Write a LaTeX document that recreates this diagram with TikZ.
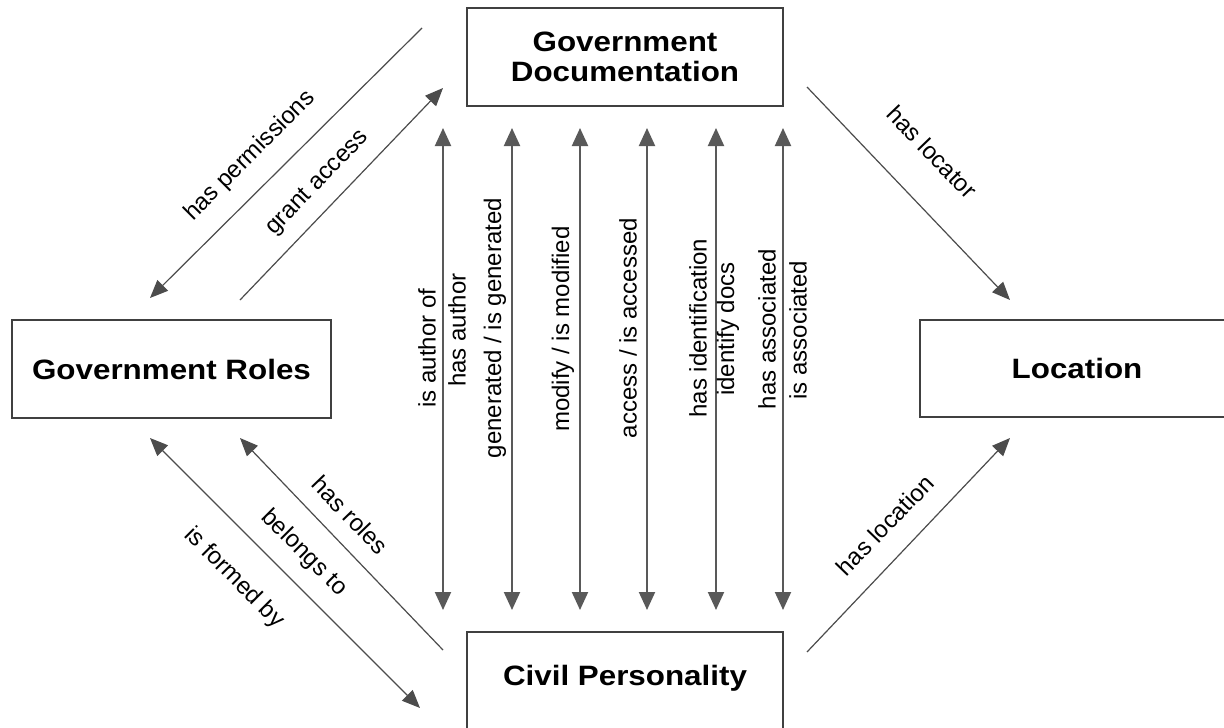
\documentclass[tikz,border=0pt]{standalone}
\usepackage{fontspec}
\setmainfont{Liberation Sans}
\newfontfamily\boxfont{Liberation Sans}[FakeStretch=1.12]
\usetikzlibrary{arrows.meta}
\begin{document}
\begin{tikzpicture}[x=1pt,y=-1pt,
  box/.style={draw=black!75, line width=1.8pt, fill=white, inner sep=0pt},
  boxlabel/.style={font=\boxfont\bfseries\fontsize{28}{30}\selectfont, align=center, inner sep=0pt},
  rel/.style={font=\fontsize{24}{26}\selectfont, inner sep=0pt},
  vlink/.style={draw=black!65, line width=2pt, {Triangle[length=18pt,width=16pt]}-{Triangle[length=18pt,width=16pt]}},
  dlink/.style={draw=black!70, line width=1.2pt, -{Triangle[length=18pt,width=15pt]}},
  dlink2/.style={draw=black!70, line width=1.2pt, {Triangle[length=18pt,width=15pt]}-{Triangle[length=18pt,width=15pt]}},
]
\clip (0,0) rectangle (1224,728);
\fill[white] (0,0) rectangle (1224,728);

% boxes
\node[box, boxlabel, minimum width=316pt, minimum height=98pt] (doc) at (625,57) {Government\\Documentation};
\node[box, boxlabel, minimum width=319pt, minimum height=98pt] (roles) at (171.5,369) {Government Roles};
\node[box, boxlabel, minimum width=314pt, minimum height=97pt] (loc) at (1077,368.5) {Location};
\node[box, minimum width=316pt, minimum height=108pt] (civ) at (625,686) {};
\node[boxlabel] (civt) at (625,678) {Civil Personality};

% vertical links
\foreach \n/\x in {a/443,b/512,c/580,d/647,e/716,f/783}{
  \coordinate (t\n) at (\x,128);
  \coordinate (b\n) at (\x,610);
  \draw[vlink] (t\n) -- (b\n);
}
\node[rel, rotate=90] (l1) at (427,348) {is author of};
\node[rel, rotate=90] (l2) at (457,330) {has author};
\node[rel, rotate=90] (l3) at (495,328) {generated / is generated};
\node[rel, rotate=90] (l4) at (563,329) {modify / is modified};
\node[rel, rotate=90] (l5) at (628,328) {access / is accessed};
\node[rel, rotate=90] (l6) at (698,328) {has identification};
\node[rel, rotate=90] (l7) at (728,329) {identify docs};
\node[rel, rotate=90] (l8) at (767,329) {has associated};
\node[rel, rotate=90] (l9) at (798,330) {is associated};

% diagonal links
\coordinate (p1) at (422,28);  \coordinate (p2) at (150,298);
\coordinate (g1) at (240,300); \coordinate (g2) at (443,88);
\coordinate (k1) at (807,87);  \coordinate (k2) at (1010,300);
\coordinate (n1) at (807,652); \coordinate (n2) at (1010,438);
\coordinate (r1) at (443,650); \coordinate (r2) at (240,438);
\coordinate (f1) at (150,438); \coordinate (f2) at (420,708);

\draw[dlink] (p1) -- (p2);
\draw[dlink] (g1) -- (g2);
\draw[dlink] (k1) -- (k2);
\draw[dlink] (n1) -- (n2);
\draw[dlink] (r1) -- (r2);
\draw[dlink2] (f1) -- (f2);

\node[rel, rotate=45] (lp) at (250,156) {has permissions};
\node[rel, rotate=46] (lg) at (318,183) {grant access};
\node[rel, rotate=-46] (lk) at (932,152) {has locator};
\node[rel, rotate=46] (ln) at (885,525) {has location};
\node[rel, rotate=-46] (lr) at (350,515) {has roles};
\node[rel, rotate=-45] (lb) at (304,553) {belongs to};
\node[rel, rotate=-45] (lf) at (234,578) {is formed by};
\end{tikzpicture}
\end{document}
